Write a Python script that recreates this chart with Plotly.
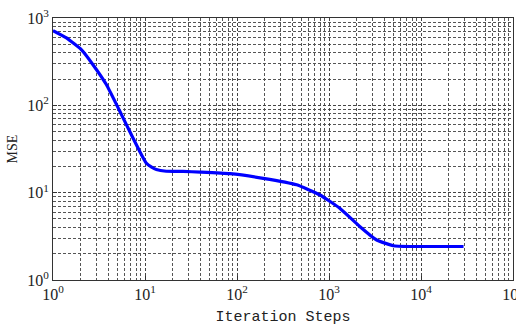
import plotly.graph_objects as go

# Data (iteration steps vs MSE)
steps = [1, 1.4, 2.03, 2.72, 3.8, 5.31, 6.81, 8.75, 10.3, 11.8, 13.3, 17, 25.9, 40, 84, 193, 445, 798, 1318, 2173, 3298, 5000, 7590, 15000, 29000]
mse = [718, 592, 434, 292, 173, 86, 50.5, 29.8, 21.9, 19.6, 18.4, 17.6, 17.5, 17.2, 16.5, 14.6, 12.3, 9.4, 6.6, 4.08, 2.87, 2.47, 2.42, 2.42, 2.42]

x_tickvals = [1, 10, 100, 1000, 10000, 100000]
x_ticktext = ["10<sup>0</sup>", "10<sup>1</sup>", "10<sup>2</sup>", "10<sup>3</sup>", "10<sup>4</sup>", "10<sup>5</sup>"]
y_tickvals = [1, 10, 100, 1000]
y_ticktext = ["10<sup>0</sup>", "10<sup>1</sup>", "10<sup>2</sup>", "10<sup>3</sup>"]

fig = go.Figure()
fig.add_trace(go.Scatter(x=steps, y=mse, mode="lines",
                         line=dict(color="#0000ff", width=3.2, shape="spline", smoothing=0.4)))

DASH = "3px,2px"
common = dict(showline=True, linecolor="#333333", linewidth=1, mirror=True,
              ticks="inside", ticklen=4, tickcolor="#333333",
              showgrid=True, gridcolor="#444444", gridwidth=1, griddash=DASH,
              zeroline=False, ticklabeloverflow="allow", automargin=False,
              tickfont=dict(family="Liberation Serif", size=16, color="#222222"),
              minor=dict(dtick="D1", showgrid=True, gridcolor="#555555", gridwidth=1,
                         griddash=DASH, ticks=""))

fig.update_layout(
    width=516, height=326,
    margin=dict(l=53, r=3, t=18, b=46),
    paper_bgcolor="white", plot_bgcolor="white",
    showlegend=False,
    font=dict(family="Liberation Serif", size=14, color="#222222"),
    xaxis=dict(type="log", range=[0, 5], tickvals=x_tickvals, ticktext=x_ticktext,
               title=dict(text="Iteration Steps", font=dict(family="Liberation Mono", size=15), standoff=8),
               **common),
    yaxis=dict(type="log", range=[0, 3], tickvals=y_tickvals, ticktext=y_ticktext,
               title=dict(text="MSE", font=dict(family="Liberation Serif", size=14), standoff=6),
               **common),
)
fig.write_html("out.html")
